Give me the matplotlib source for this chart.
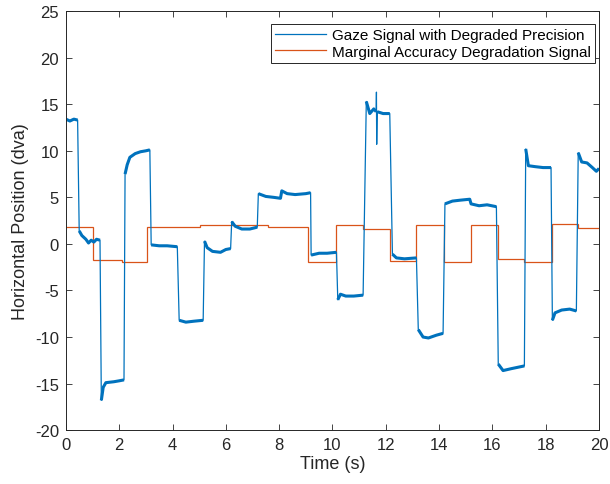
import matplotlib
matplotlib.use('Agg')
import matplotlib.pyplot as plt

plt.rcParams['font.family'] = ['Liberation Sans', 'DejaVu Sans']
plt.rcParams['axes.unicode_minus'] = False

# gaze signal, one list of (time, position) per piece
# second item: True for fixations (drawn thicker, noise band), False for the glitch
gaze_pieces = [
    ([(0.0, 13.4), (0.15, 13.2), (0.3, 13.4), (0.44, 13.3)], True),
    ([(0.5, 1.4), (0.6, 0.9), (0.75, 0.5), (0.85, 0.1), (0.95, 0.4), (1.05, 0.2), (1.15, 0.5), (1.28, 0.4)], True),
    ([(1.33, -16.8), (1.4, -15.4), (1.5, -14.9), (1.8, -14.8), (2.0, -14.7), (2.18, -14.6)], True),
    ([(2.22, 7.5), (2.3, 8.5), (2.4, 9.3), (2.6, 9.7), (2.8, 9.9), (3.0, 10.0), (3.15, 10.1)], True),
    ([(3.2, -0.1), (3.5, -0.2), (3.8, -0.2), (4.18, -0.3)], True),
    ([(4.25, -8.2), (4.5, -8.4), (4.8, -8.3), (5.15, -8.2)], True),
    ([(5.2, 0.3), (5.3, -0.4), (5.5, -0.8), (5.8, -0.9), (6.0, -0.6), (6.18, -0.5)], True),
    ([(6.22, 2.4), (6.35, 1.9), (6.6, 1.6), (6.9, 1.6), (7.18, 1.8)], True),
    ([(7.22, 5.4), (7.5, 5.1), (7.8, 5.0), (8.05, 4.9), (8.1, 5.7), (8.3, 5.4), (8.6, 5.3), (9.0, 5.4), (9.18, 5.5)], True),
    ([(9.2, -1.2), (9.5, -1.0), (9.8, -1.0), (10.15, -0.9)], True),
    ([(10.2, -6.0), (10.3, -5.4), (10.5, -5.6), (10.8, -5.6), (11.15, -5.5)], True),
    ([(11.27, 15.3), (11.4, 14.0), (11.55, 14.5), (11.64, 14.2)], True),
    ([(11.65, 16.3), (11.66, 10.7)], False),
    ([(11.68, 14.2), (11.9, 14.0), (12.15, 14.0)], True),
    ([(12.25, -1.1), (12.4, -1.5), (12.7, -1.6), (13.15, -1.5)], True),
    ([(13.22, -9.2), (13.4, -10.0), (13.6, -10.1), (13.9, -9.8), (14.15, -9.6)], True),
    ([(14.22, 4.3), (14.5, 4.6), (14.8, 4.7), (15.15, 4.8), (15.2, 4.3), (15.5, 4.1), (15.8, 4.2), (16.15, 4.0)], True),
    ([(16.22, -12.9), (16.4, -13.6), (16.7, -13.4), (17.2, -13.1)], True),
    ([(17.25, 10.2), (17.35, 8.4), (17.6, 8.3), (17.9, 8.2), (18.2, 8.2)], True),
    ([(18.25, -8.2), (18.35, -7.4), (18.6, -7.1), (18.9, -7.0), (19.15, -7.2)], True),
    ([(19.22, 9.8), (19.35, 8.8), (19.55, 8.7), (19.75, 8.2), (19.9, 7.8), (20.0, 8.1)], True),
]

# accuracy degradation step signal
step_edges = [0, 1.0, 2.1, 3.05, 5.05, 7.6, 9.1, 10.15, 11.15, 12.15, 13.15,
              14.2, 15.2, 16.2, 17.2, 18.25, 19.2, 20]
step_levels = [1.85, -1.75, -1.9, 1.8, 2.0, 1.85, -1.95, 2.0, 1.65, -1.85, 2.0,
               -1.9, 2.0, -1.65, -1.95, 2.1, 1.75]

blue = '#0072BD'
orange = '#D95319'
dark = '#262626'

fig = plt.figure(figsize=(6.1, 4.85), dpi=100)
ax = fig.add_axes([0.108, 0.111, 0.874, 0.864])

t_all = [p[0] for pts, _ in gaze_pieces for p in pts]
y_all = [p[1] for pts, _ in gaze_pieces for p in pts]
ax.plot(t_all, y_all, color=blue, lw=0.9, label='Gaze Signal with Degraded Precision')
# fixations look thicker in the original because of the noise
for pts, thick in gaze_pieces:
    if thick:
        ax.plot([p[0] for p in pts], [p[1] for p in pts], color=blue, lw=2.2,
                solid_capstyle='butt')

ax.stairs(step_levels, step_edges, color=orange, lw=0.9, baseline=None,
          label='Marginal Accuracy Degradation Signal')

ax.set_xlim(0, 20)
ax.set_ylim(-20, 25)
ax.set_xticks(range(0, 21, 2))
ax.set_yticks(range(-20, 26, 5))
ax.tick_params(direction='in', top=True, right=True, length=4, width=0.6,
               colors=dark, labelsize=12, pad=5)
for s in ax.spines.values():
    s.set_color(dark)
    s.set_linewidth(0.7)
ax.set_xlabel('Time (s)', fontsize=13, color=dark, labelpad=2)
ax.set_ylabel('Horizontal Position (dva)', fontsize=13, color=dark, labelpad=4)

leg = ax.legend(loc='upper right', bbox_to_anchor=(0.993, 0.97), fontsize=11,
                fancybox=False, framealpha=1, edgecolor=dark, borderpad=0.3,
                handlelength=3.3, handletextpad=0.4, labelspacing=0.15,
                borderaxespad=0)
leg.get_frame().set_linewidth(0.7)
for h in leg.get_lines():
    h.set_linewidth(0.9)

fig.savefig('out.png', dpi=100)
